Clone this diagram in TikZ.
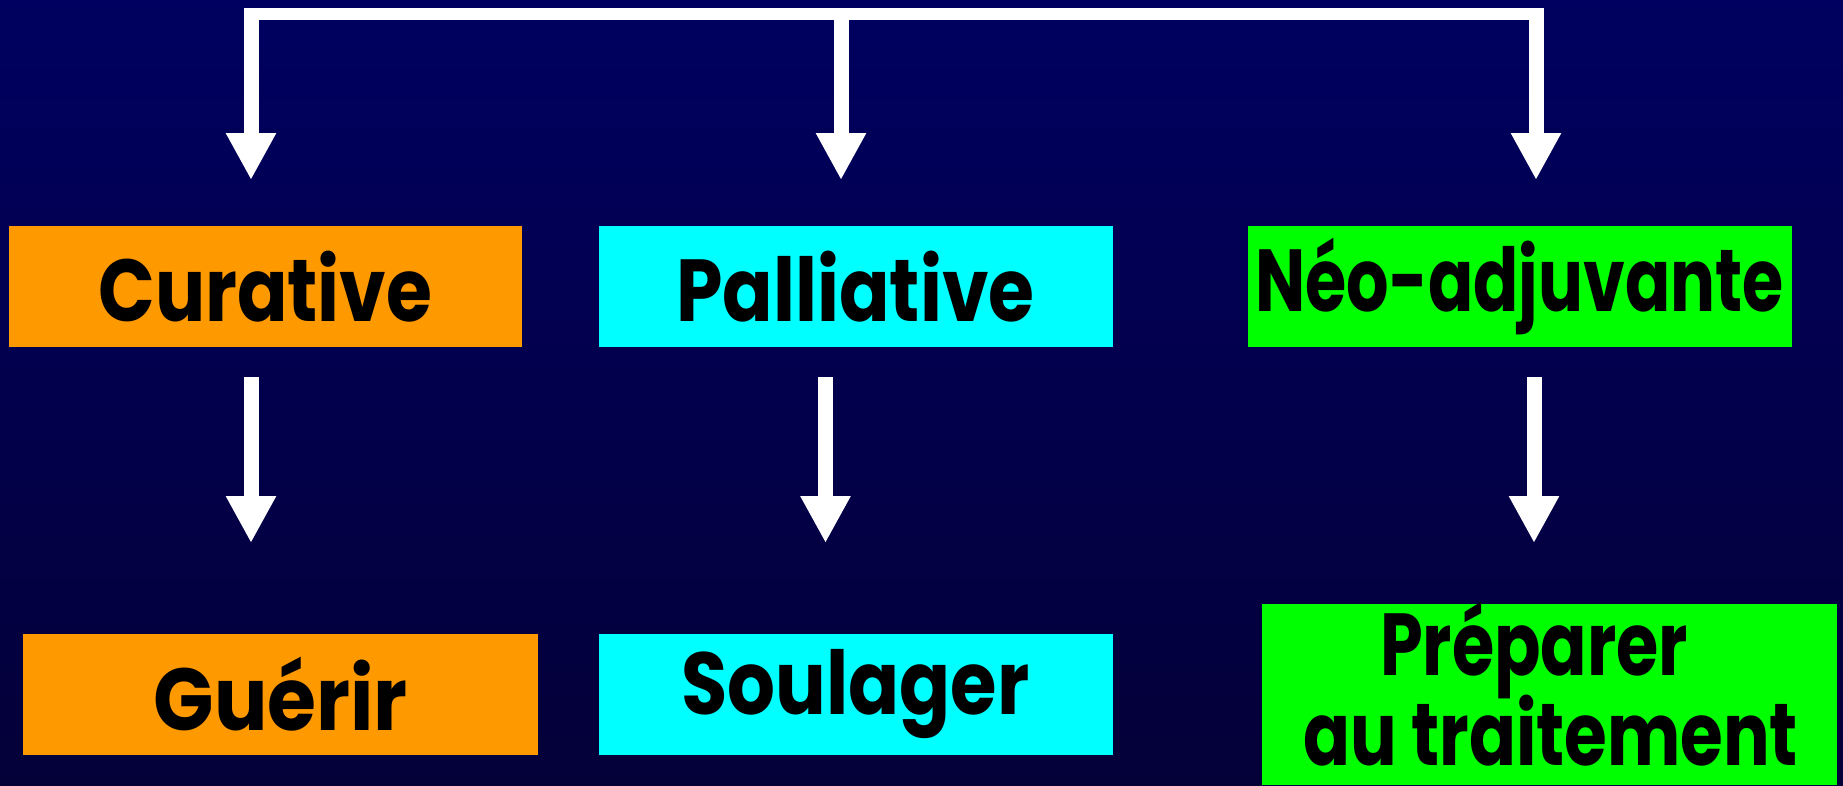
\documentclass[tikz,border=0pt]{standalone}
\usepackage{fontspec}
\usepackage{graphicx}
\setmainfont{Poppins}
\usetikzlibrary{arrows.meta}
\definecolor{bgtop}{RGB}{0,0,96}
\definecolor{bgbot}{RGB}{4,0,56}
\definecolor{orangebox}{RGB}{255,153,0}
\definecolor{cyanbox}{RGB}{0,255,255}
\definecolor{greenbox}{RGB}{0,255,0}
\newcommand{\boxtxt}[2]{\resizebox{#1}{\height}{#2}}
\tikzset{
  label box/.style={rectangle, inner sep=0pt, text=black, align=center,
    font=\fontsize{88}{90}\selectfont\bfseries},
  label text/.style={inner sep=0pt, text=black, anchor=base,
    font=\fontsize{88}{90}\selectfont\bfseries},
  wire/.style={draw=white, line width=12pt},
  flow arrow/.style={draw=white, line width=15pt,
    -{Triangle[width=47pt,length=47pt]}},
}
\begin{document}
\begin{tikzpicture}[x=1pt,y=-1pt]
\shade[top color=bgtop, bottom color=bgbot] (0,0) rectangle (1843,785);
\useasboundingbox (0,0) rectangle (1843,785);
% boxes
\node[label box, fill=orangebox, minimum width=513pt, minimum height=121pt] (cur) at (265.4,286.5) {\boxtxt{334pt}{Curative}};
\node[label box, fill=cyanbox, minimum width=514pt, minimum height=121pt] (pal) at (855.5,286.5) {\boxtxt{358pt}{Palliative}};
\node[label box, fill=greenbox, minimum width=544pt, minimum height=121pt] (neo) at (1519.5,286.5) {\boxtxt{528pt}{Néo-adjuvante}};
\node[label box, fill=orangebox, minimum width=515pt, minimum height=121pt] (gue) at (280.7,694.5) {\boxtxt{254pt}{Guérir}};
\node[label box, fill=cyanbox, minimum width=514pt, minimum height=121pt] (sou) at (855.5,694.5) {\boxtxt{348pt}{Soulager}};
\node[label box, fill=greenbox, minimum width=575pt, minimum height=181pt] (pre) at (1549.5,694.5) {};
\node[label text] (pre1) at (1534,675) {\boxtxt{308pt}{Préparer}};
\node[label text] (pre2) at (1550.5,765) {\boxtxt{495pt}{au traitement}};
% top connector
\coordinate (tl) at (251,14);
\coordinate (tm) at (841,14);
\coordinate (tr) at (1536,14);
\coordinate (a1) at (251,180);
\coordinate (a2) at (841,180);
\coordinate (a3) at (1536,180);
\draw[wire] ([xshift=-7.5pt]tl) -- ([xshift=7.5pt]tr);
\draw[flow arrow] ([yshift=-1pt]tl) -- (a1);
\draw[flow arrow] ([yshift=-1pt]tm) -- (a2);
\draw[flow arrow] ([yshift=-1pt]tr) -- (a3);
% lower arrows
\coordinate (b1s) at (251,377);
\coordinate (b2s) at (825.5,377);
\coordinate (b3s) at (1534,377);
\coordinate (b1) at (251,543);
\coordinate (b2) at (825.5,543);
\coordinate (b3) at (1534,543);
\draw[flow arrow] (b1s) -- (b1);
\draw[flow arrow] (b2s) -- (b2);
\draw[flow arrow] (b3s) -- (b3);
\end{tikzpicture}
\end{document}
